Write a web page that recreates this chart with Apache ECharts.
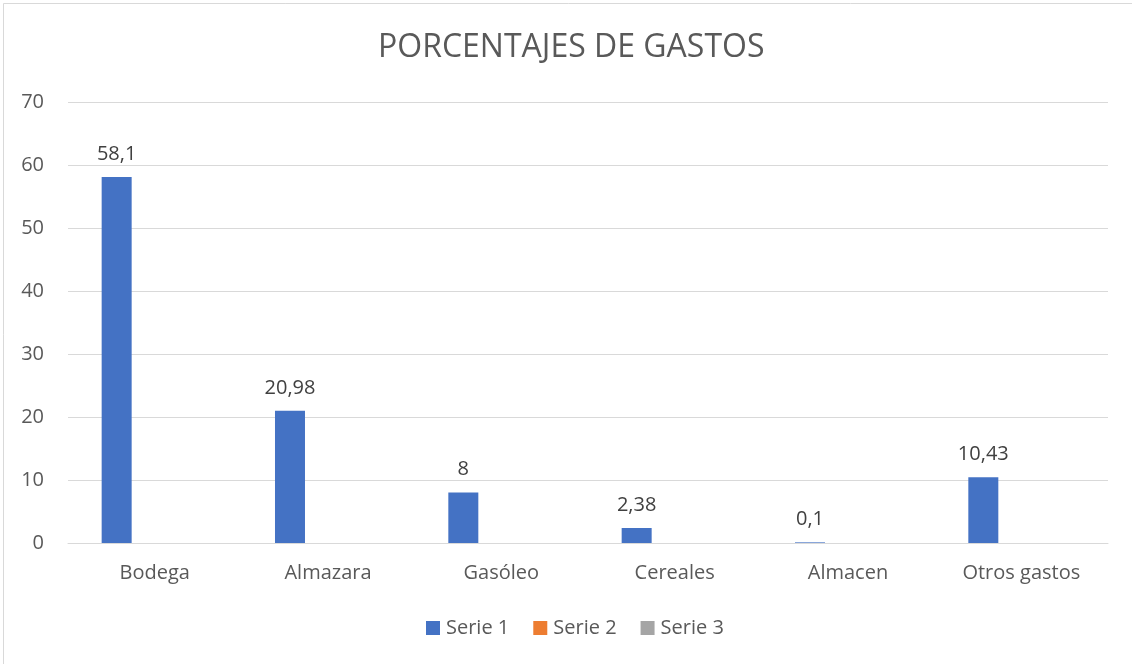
<!DOCTYPE html>
<html>
<head>
<meta charset="utf-8">
<script src="https://cdn.jsdelivr.net/npm/echarts@6/dist/echarts.min.js"></script>
<style>
html,body{margin:0;padding:0;background:#fff;}
#chart{width:1132px;height:664px;}
</style>
</head>
<body>
<div id="chart"></div>
<script>
const titleText = 'PORCENTAJES DE GASTOS';
const categories = ['Bodega', 'Almazara', 'Gasóleo', 'Cereales', 'Almacen', 'Otros gastos'];
const seriesNames = ['Serie 1', 'Serie 2', 'Serie 3'];
const serie1 = [58.1, 20.98, 8, 2.38, 0.1, 10.43];
const serie2 = [null, null, null, null, null, null];
const serie3 = [null, null, null, null, null, null];
const seriesColors = ['#4472C4', '#ED7D31', '#A5A5A5'];

const font = '"Open Sans", sans-serif';
const chart = echarts.init(document.getElementById('chart'), null, {renderer: 'canvas'});

function fmt(v) { return String(v).replace('.', ','); }

const datas = [serie1, serie2, serie3];
chart.setOption({
  animation: false,
  backgroundColor: '#fff',
  graphic: [{
    type: 'rect', shape: {x: 3.5, y: 3.5, width: 1200, height: 700},
    style: {fill: 'none', stroke: '#d9d9d9', lineWidth: 1}, silent: true
  }],
  title: {
    text: titleText, left: 373, top: 27,
    textStyle: {fontFamily: font, fontSize: 32, fontWeight: 'normal', color: '#595959'}
  },
  legend: {
    bottom: 21, left: 421, icon: 'rect', itemWidth: 14, itemHeight: 14, itemGap: 24,
    data: seriesNames,
    textStyle: {fontFamily: font, fontSize: 20, color: '#595959', padding: [0, 0, 0, 1]}
  },
  grid: {left: 68, right: 24, top: 102, bottom: 121, containLabel: false},
  xAxis: {
    type: 'category', data: categories,
    axisLine: {lineStyle: {color: '#d9d9d9', width: 1}},
    axisTick: {show: false},
    axisLabel: {fontFamily: font, fontSize: 20, color: '#595959', margin: 20}
  },
  yAxis: {
    type: 'value', min: 0, max: 70, interval: 10,
    axisLine: {show: false}, axisTick: {show: false},
    splitLine: {lineStyle: {color: '#d9d9d9', width: 1}},
    axisLabel: {fontFamily: font, fontSize: 20, color: '#595959', margin: 24}
  },
  series: seriesNames.map((name, i) => ({
    name: name, type: 'bar', data: datas[i],
    barWidth: 30, barGap: '26.7%',
    itemStyle: {color: seriesColors[i]},
    label: {
      show: true, position: 'top', distance: 13,
      fontFamily: font, fontSize: 20, color: '#404040',
      formatter: p => (p.value == null ? '' : fmt(p.value))
    }
  }))
});
</script>
</body>
</html>
